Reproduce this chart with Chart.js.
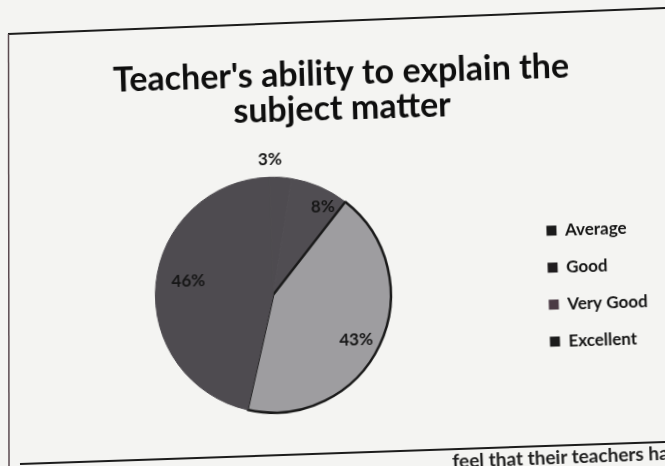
<!DOCTYPE html>
<html>
<head>
<meta charset="utf-8">
<script src="https://cdn.jsdelivr.net/npm/chart.js@4.4.1/dist/chart.umd.min.js"></script>
<style>
  html, body { margin: 0; padding: 0; background: #f4f4f2; overflow: hidden; }
  #page { position: relative; width: 665px; height: 466px; overflow: hidden; }
  #chartBox { position: absolute; left: 0; top: 0; width: 665px; height: 466px; transform: rotate(-1.8deg); }
  #frame { position: absolute; left: 0; top: 0; }
  #bottomText {
    position: absolute; left: 452px; top: 449px; white-space: nowrap;
    font-family: Lato, sans-serif; font-weight: bold; font-size: 19px; color: #1e1e1e;
    transform: rotate(-2.2deg); transform-origin: left top;
  }
</style>
</head>
<body>
<div id="page">
  <svg id="frame" width="665" height="466">
    <line x1="8" y1="34" x2="665" y2="8" stroke="#1c1c1c" stroke-width="2"/>
    <line x1="8.5" y1="34" x2="9" y2="466" stroke="#5a4a50" stroke-width="1.5"/>
    <line x1="20" y1="464" x2="665" y2="442" stroke="#1c1c1c" stroke-width="2"/>
  </svg>
  <div id="chartBox"><canvas id="myChart" width="665" height="466"></canvas></div>
  <div id="bottomText">feel that their teachers have</div>
</div>
<script>
// datos del grafico
const categorias = ['Average', 'Good', 'Very Good', 'Excellent'];
const porcentajes = [3, 8, 43, 46];
const coloresPie = ['#4e4b50', '#504d52', '#9e9da0', '#4e4b50'];
const bordesColor = ['#4e4b50', '#504d52', '#1a1a1a', '#4e4b50'];
const bordesAncho = [1, 1, 2.5, 1];
const coloresLeyenda = ['#1b1b1b', '#1f1c1e', '#4b3b45', '#1b1b1b'];
// posicion de cada etiqueta: fraccion del radio y giro (grados)
const radioEtiquetas = [1.15, 0.86, 0.80, 0.73];
const giroEtiquetas = [-5, 6, 3, 4];

/* Plugin para escribir los porcentajes sobre las porciones */
const etiquetasPie = {
  id: 'etiquetasPie',
  afterDatasetsDraw(chart) {
    const ctx = chart.ctx;
    const meta = chart.getDatasetMeta(0);
    ctx.save();
    ctx.font = 'bold 17px Lato, sans-serif';
    ctx.fillStyle = '#161616';
    ctx.textAlign = 'center';
    ctx.textBaseline = 'middle';
    meta.data.forEach((arc, i) => {
      const p = arc.getProps(['x', 'y', 'startAngle', 'endAngle', 'outerRadius'], true);
      const mid = (p.startAngle + p.endAngle) / 2 + giroEtiquetas[i] * Math.PI / 180;
      const r = p.outerRadius * radioEtiquetas[i];
      ctx.fillText(porcentajes[i] + '%', p.x + Math.cos(mid) * r, p.y + Math.sin(mid) * r);
    });
    ctx.restore();
  }
};

const ctx = document.getElementById('myChart');

new Chart(ctx, {
  type: 'pie',
  data: {
    labels: categorias,
    datasets: [{
      data: porcentajes,
      backgroundColor: coloresPie,
      borderColor: bordesColor,
      borderWidth: bordesAncho
    }]
  },
  options: {
    responsive: false,
    animation: false,
    layout: {
      // margen derecho negativo: el titulo queda centrado como en el original
      padding: { left: 16, right: -11, top: 0, bottom: 54 }
    },
    plugins: {
      title: {
        display: true,
        text: ["Teacher's ability to explain the", 'subject matter'],
        color: '#0e0e0e',
        font: { family: 'Lato, sans-serif', size: 34, weight: 'bold', lineHeight: 1.03 },
        padding: { top: 57, bottom: 47 }
      },
      legend: {
        position: 'right',
        align: 'start',
        title: {
          display: true,
          text: ' ',
          font: { size: 10 },
          padding: { top: 197, bottom: 0 }
        },
        labels: {
          color: '#141414',
          font: { family: 'Lato, sans-serif', size: 17, weight: 'bold' },
          boxWidth: 10,
          boxHeight: 10,
          padding: 20,
          generateLabels: function (chart) {
            // espacios al final para ensanchar la caja de la leyenda
            return categorias.map((c, i) => ({
              text: c + '     ',
              fillStyle: coloresLeyenda[i],
              strokeStyle: coloresLeyenda[i],
              fontColor: '#141414',
              lineWidth: 0,
              hidden: false,
              index: i
            }));
          }
        }
      },
      tooltip: { enabled: false }
    }
  },
  plugins: [etiquetasPie]
});
</script>
</body>
</html>
